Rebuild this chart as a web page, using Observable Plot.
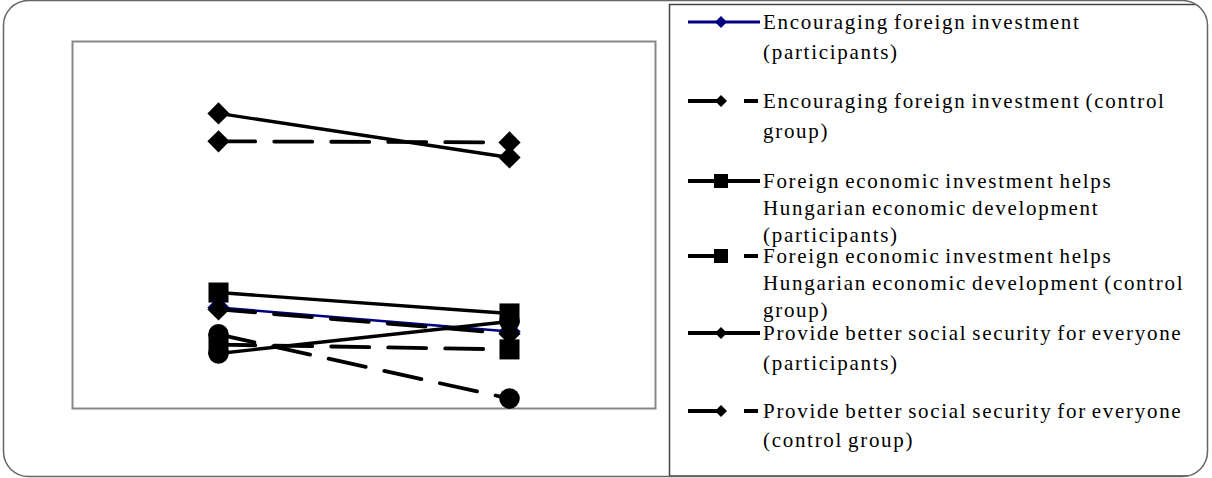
<!DOCTYPE html>
<html>
<head>
<meta charset="utf-8">
<script src="https://cdn.jsdelivr.net/npm/d3@7"></script>
<script src="https://cdn.jsdelivr.net/npm/@observablehq/plot@0.6"></script>
<style>
  html, body { margin: 0; padding: 0; background: #fff; }
  #wrap { position: relative; width: 1212px; height: 478px; overflow: hidden; }
  #wrap svg { position: absolute; left: 0; top: 0; }
</style>
</head>
<body>
<div id="wrap"></div>
<script>
// Survey periods on the horizontal axis
const periods = ["Before", "After"];

// Series names (legend order)
const seriesNames = [
  "Encouraging foreign investment (participants)",
  "Encouraging foreign investment (control group)",
  "Foreign economic investment helps Hungarian economic development (participants)",
  "Foreign economic investment helps Hungarian economic development (control group)",
  "Provide better social security for everyone (participants)",
  "Provide better social security for everyone (control group)",
  "Series 7",
  "Series 8"
];

// Values per series, one per period
const encouragingParticipants = [27.5, 21.0];
const encouragingControl      = [27.0, 20.4];
const foreignHelpsParticipants = [31.6, 25.9];
const foreignHelpsControl      = [17.4, 16.1];
const socialParticipants = [80.4, 68.4];
const socialControl      = [72.8, 72.5];
const series7 = [15.0, 23.7];
const series8 = [20.2, 2.7];

// Legend text, wrapped as it appears in the legend box
const legendLines = [
  ["Encouraging foreign investment", "(participants)"],
  ["Encouraging foreign investment (control", "group)"],
  ["Foreign economic investment helps", "Hungarian economic development", "(participants)"],
  ["Foreign economic investment helps", "Hungarian economic development (control", "group)"],
  ["Provide better social security for everyone", "(participants)"],
  ["Provide better social security for everyone", "(control group)"]
];

const seriesValues = [
  encouragingParticipants, encouragingControl,
  foreignHelpsParticipants, foreignHelpsControl,
  socialParticipants, socialControl,
  series7, series8
];

const rows = seriesNames.flatMap((name, i) =>
  periods.map((p, j) => ({series: name, period: p, value: seriesValues[i][j]})));

// Visual style per series index
const NAVY = "#000080";
const DASH = "38,19";
const styles = [
  {color: NAVY,   dash: null, symbol: "diamond2", r: 10,   width: 2.6},
  {color: "#000", dash: DASH, symbol: "diamond2", r: 10,   width: 3.8},
  {color: "#000", dash: null, symbol: "square",   r: 11.3, width: 3.4},
  {color: "#000", dash: DASH, symbol: "square",   r: 11.3, width: 3.8},
  {color: "#000", dash: null, symbol: "diamond2", r: 10,   width: 3.4},
  {color: "#000", dash: DASH, symbol: "diamond2", r: 10,   width: 3.8},
  {color: "#000", dash: null, symbol: "circle",   r: 10.3, width: 3.4},
  {color: "#000", dash: DASH, symbol: "circle",   r: 10.3, width: 3.8}
];
const drawOrder = [4, 5, 0, 1, 2, 3, 6, 7];

const marks = [Plot.frame({stroke: "#888", strokeWidth: 2})];
for (const i of drawOrder) {
  const s = styles[i];
  const d = rows.filter(r => r.series === seriesNames[i]);
  marks.push(Plot.line(d, {
    x: "period", y: "value", stroke: s.color, strokeWidth: s.width,
    strokeDasharray: s.dash ?? undefined, strokeDashoffset: s.dash ? 1.25 : undefined,
    strokeLinecap: s.dash ? "round" : "butt"
  }));
  marks.push(Plot.dot(d, {
    x: "period", y: "value", symbol: s.symbol, r: s.r, fill: s.color, stroke: "none"
  }));
}

const chart = Plot.plot({
  width: 1212,
  height: 478,
  marginLeft: 72,
  marginRight: 557,
  marginTop: 41,
  marginBottom: 70,
  style: {background: "transparent"},
  x: {type: "point", domain: periods, padding: 0.5, axis: null},
  y: {domain: [0, 100], axis: null},
  marks
});
const wrap = document.getElementById("wrap");
wrap.appendChild(chart);

// Legend box and outer rounded border
const svg = d3.select(wrap).append("svg")
  .attr("width", 1212).attr("height", 478);

svg.append("defs").append("clipPath").attr("id", "outer-clip")
  .append("rect").attr("x", 3.5).attr("y", 0.5).attr("width", 1204).attr("height", 476)
  .attr("rx", 25).attr("ry", 25);

const lg = svg.append("g").attr("clip-path", "url(#outer-clip)");
lg.append("rect")
  .attr("x", 669.5).attr("y", 4.5).attr("width", 600).attr("height", 471.5)
  .attr("fill", "#fff").attr("stroke", "#444").attr("stroke-width", 1.5);

const entryY = [22, 101, 181, 256, 333, 411];
const lineGap = [30, 30, 27, 27, 30, 29];
const legendSymbols = ["diamond", "diamond", "square", "square", "diamond", "diamond"];

legendLines.forEach((lines, i) => {
  const s = styles[i];
  const y = entryY[i];
  const g = lg.append("g");
  g.append("line")
    .attr("x1", 688).attr("x2", s.dash ? 758 : 760).attr("y1", y).attr("y2", y)
    .attr("stroke", s.color).attr("stroke-width", i === 0 ? 3 : 4)
    .attr("stroke-dasharray", s.dash ? "34,22" : null);
  const sym = legendSymbols[i] === "square"
    ? d3.symbol(d3.symbolSquare, 196) : d3.symbol(d3.symbolDiamond2, 92);
  g.append("path").attr("d", sym()).attr("transform", `translate(721,${y})`)
    .attr("fill", s.color);
  lines.forEach((t, k) => {
    g.append("text")
      .attr("x", 763).attr("y", y + k * lineGap[i] + 7)
      .attr("font-family", "'Liberation Serif', 'Times New Roman', serif")
      .attr("font-size", 21)
      .attr("letter-spacing", "1.7px")
      .attr("word-spacing", "-2px")
      .attr("fill", "#000")
      .text(t);
  });
});

svg.append("rect")
  .attr("x", 3.5).attr("y", 0.5).attr("width", 1204).attr("height", 476)
  .attr("rx", 25).attr("ry", 25)
  .attr("fill", "none").attr("stroke", "#666").attr("stroke-width", 1.5);
</script>
</body>
</html>
